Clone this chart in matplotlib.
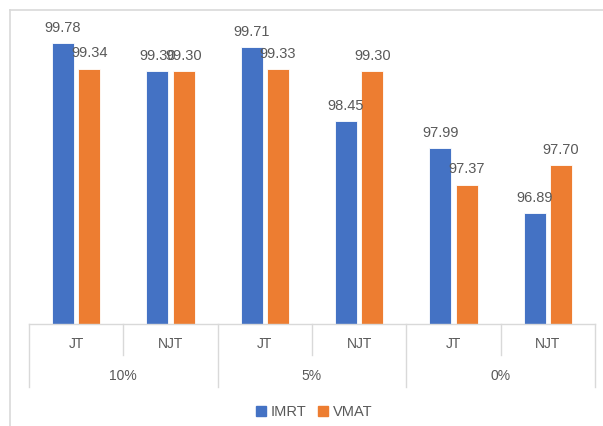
import numpy as np
import matplotlib.pyplot as plt
from matplotlib.lines import Line2D
from matplotlib.patches import Patch

# Data
groups = ['10%', '5%', '0%']
subcats = ['JT', 'NJT']
imrt = [99.78, 99.30, 99.71, 98.45, 97.99, 96.89]
vmat = [99.34, 99.30, 99.33, 99.30, 97.37, 97.70]
series_names = ['IMRT', 'VMAT']

blue = '#4472C4'
orange = '#ED7D31'
txt = '#595959'
grid_c = '#D9D9D9'

W, H = 603, 426
fig = plt.figure(figsize=(W / 100, H / 100), dpi=100)
plt.rcParams['font.family'] = ['Liberation Sans', 'DejaVu Sans']

def fx(px):
    return px / W

def fy(py):
    return (H - py) / H

# axes placed in pixel terms
x0, x1, ybase, ytop = 29, 595, 324, 30
ax = fig.add_axes([fx(x0), fy(ybase), fx(x1 - x0), (ybase - ytop) / H])

n = len(imrt)
x = np.arange(n)
bw = 0.235
off = 0.14
ax.bar(x - off, [v - 95 for v in imrt], bw, bottom=95, color=blue, edgecolor='white', linewidth=0.6)
ax.bar(x + off, [v - 95 for v in vmat], bw, bottom=95, color=orange, edgecolor='white', linewidth=0.6)

for i in range(n):
    ax.annotate(f'{imrt[i]:.2f}', (x[i] - off, imrt[i]), xytext=(0, 6), textcoords='offset points',
                ha='center', va='bottom', fontsize=10.5, color=txt, clip_on=False)
    ax.annotate(f'{vmat[i]:.2f}', (x[i] + off, vmat[i]), xytext=(0, 6), textcoords='offset points',
                ha='center', va='bottom', fontsize=10.5, color=txt, clip_on=False)

ax.set_xlim(-0.5, n - 0.5)
ax.set_ylim(95, 100)
ax.axis('off')

# category axis (two levels)
cw = (x1 - x0) / n
fig.add_artist(Line2D([fx(x0), fx(x1)], [fy(ybase), fy(ybase)], color=grid_c, lw=1))
for k in range(n + 1):
    xp = x0 + k * cw
    yend = 387 if k % 2 == 0 else 355
    fig.add_artist(Line2D([fx(xp), fx(xp)], [fy(ybase), fy(yend)], color=grid_c, lw=1))
for i in range(n):
    fig.text(fx(x0 + (i + 0.5) * cw), fy(344), subcats[i % 2], ha='center', va='center',
             fontsize=10, color=txt)
for g in range(len(groups)):
    fig.text(fx(x0 + (2 * g + 1) * cw), fy(376), groups[g], ha='center', va='center',
             fontsize=10, color=txt)

# legend
handles = [Patch(color=blue), Patch(color=orange)]
fig.legend(handles, series_names, loc='center', bbox_to_anchor=(fx(314), fy(412)), ncol=2,
           frameon=False, fontsize=10.5, handlelength=0.7, handleheight=0.7, handletextpad=0.3,
           columnspacing=0.8, labelcolor=txt)

# chart area border (top and left visible)
fig.add_artist(Line2D([fx(10), fx(603)], [fy(9.5), fy(9.5)], color=grid_c, lw=1.2))
fig.add_artist(Line2D([fx(10), fx(10)], [fy(9.5), fy(426)], color=grid_c, lw=1.2))

fig.savefig('out.png', dpi=100)
